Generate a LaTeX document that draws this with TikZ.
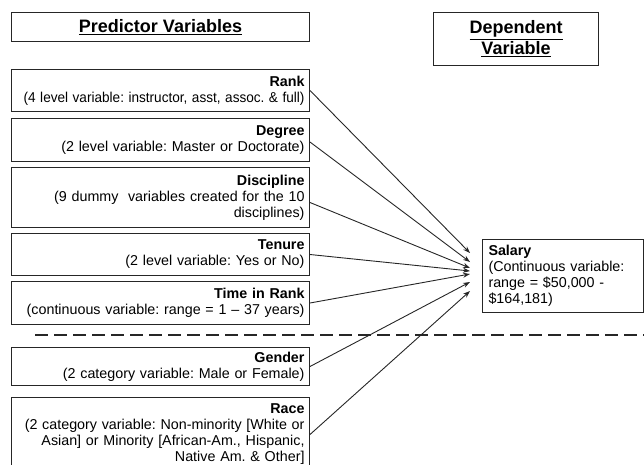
\documentclass[tikz,border=0pt]{standalone}
\usepackage{graphicx}
\usepackage{fontspec}
\setmainfont{Liberation Sans}
\usetikzlibrary{positioning,arrows.meta}

\tikzset{
  varbox/.style={draw=black!85, line width=1pt, anchor=north west,
    minimum width=298pt, text width=288pt, inner xsep=5pt, inner ysep=1pt,
    align=right, font=\fontsize{14.3}{16}\selectfont\frenchspacing},
  headbox/.style={draw=black!85, line width=1pt, anchor=north west,
    inner sep=0pt, align=center, font=\bfseries\fontsize{18}{21}\selectfont},
  arr/.style={-{Stealth[length=7pt,width=5pt]}, line width=0.9pt, draw=black!85},
}

\begin{document}
\begin{tikzpicture}[x=1pt, y=-1pt]
    \useasboundingbox (0,0) rectangle (644,464);

    % Headings
    \node[headbox, minimum width=298pt, minimum height=29pt] (predhead) at (11,12)
        {\underline{Predictor Variables}};
    \node[headbox, minimum width=165pt, minimum height=53pt] (dephead) at (433,12)
        {\underline{Dependent}\\\underline{Variable}};

    % Predictor boxes
    \node[varbox, minimum height=42pt] (rank) at (11,69)
        {\textbf{Rank}\\\scalebox{0.95}[1]{(4 level variable: instructor, asst, assoc. \& full)}};
    \node[varbox, minimum height=43pt] (degree) at (11,118)
        {\textbf{Degree}\\(2 level variable: Master or Doctorate)};
    \node[varbox, minimum height=60pt] (discipline) at (11,167)
        {\textbf{Discipline}\\(9 dummy\ \ variables created for the 10\\disciplines)};
    \node[varbox, minimum height=42pt] (tenure) at (11,233)
        {\textbf{Tenure}\\(2 level variable: Yes or No)};
    \node[varbox, minimum height=43pt] (timerank) at (11,281)
        {\textbf{Time in Rank}\\\mbox{(continuous variable: range = 1 -- 37 years)}};
    \node[varbox, minimum height=38pt] (gender) at (11,347)
        {\textbf{Gender}\\(2 category variable: Male or Female)};
    \node[varbox, minimum height=74pt] (race) at (11,397)
        {\textbf{Race}\\\mbox{(2 category variable: Non-minority [White or}\\
        \mbox{Asian] or Minority [African-Am., Hispanic,}\\\mbox{Native Am. \& Other]}};

    % Dependent box
    \node[draw=black!85, line width=1pt, anchor=north west, minimum width=161pt,
        minimum height=73pt, text width=149pt, inner xsep=6pt, inner ysep=1pt,
        align=left, font=\fontsize{14.3}{16}\selectfont\frenchspacing] (salary) at (482,239)
        {\textbf{Salary}\\(Continuous variable:\\range = \$50,000 -\\\$164,181)};

    % Separator
    \draw[dashed, dash pattern=on 13pt off 6pt, line width=1.2pt, black!85]
        (35,335) -- (644,335);

    % Arrow ends
    \coordinate (eRank) at (470,253);
    \coordinate (eDegree) at (470,262);
    \coordinate (eDiscipline) at (470,268);
    \coordinate (eTenure) at (470,271);
    \coordinate (eTime) at (470,274);
    \coordinate (eGender) at (470,282);
    \coordinate (eRace) at (470,291);

    % Arrows
    \draw[arr] (rank.east) -- (eRank);
    \draw[arr] ([yshift=-2pt]degree.east) -- (eDegree);
    \draw[arr] ([yshift=-5pt]discipline.east) -- (eDiscipline);
    \draw[arr] (tenure.east) -- (eTenure);
    \draw[arr] (timerank.east) -- (eTime);
    \draw[arr] (gender.east) -- (eGender);
    \draw[arr] (race.east) -- (eRace);
\end{tikzpicture}
\end{document}
